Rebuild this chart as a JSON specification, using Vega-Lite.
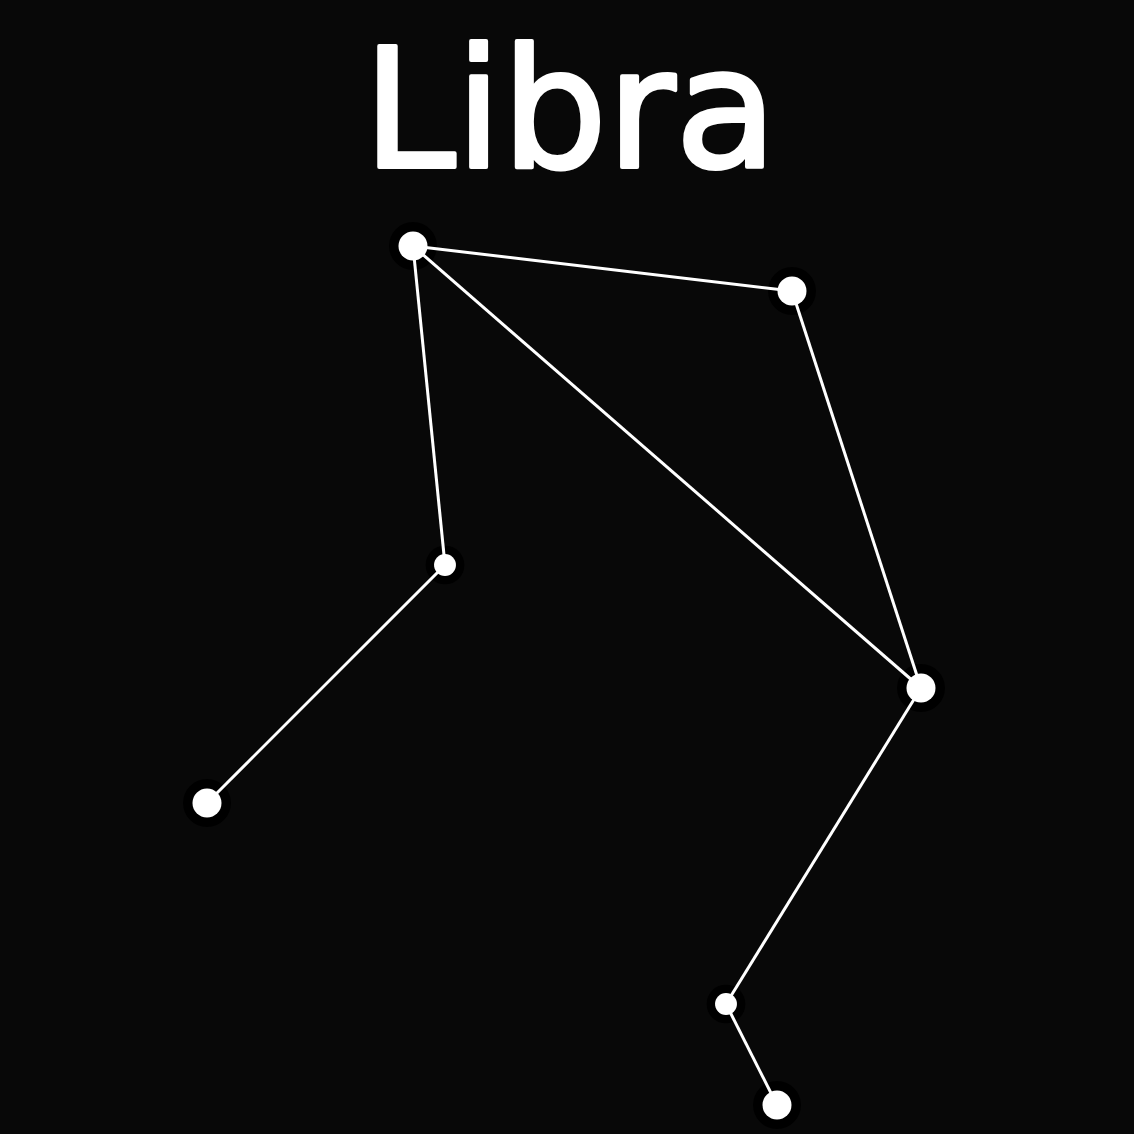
{
  "$schema": "https://vega.github.io/schema/vega-lite/v6.json",
  "description": "Libra constellation",
  "width": 1134,
  "height": 1134,
  "autosize": {"type": "fit", "contains": "padding"},
  "padding": 0,
  "background": "#080808",
  "config": {"view": {"stroke": null}},
  "datasets": {
    "stars": [
      {"id": "A", "x": 413, "y": 246, "brightness": "bright"},
      {"id": "B", "x": 792, "y": 291, "brightness": "bright"},
      {"id": "C", "x": 445, "y": 565, "brightness": "faint"},
      {"id": "D", "x": 207, "y": 803, "brightness": "bright"},
      {"id": "E", "x": 921, "y": 688, "brightness": "bright"},
      {"id": "F", "x": 726, "y": 1004, "brightness": "faint"},
      {"id": "G", "x": 777, "y": 1105, "brightness": "bright"}
    ],
    "edges": [
      {"source": "A", "target": "B"},
      {"source": "A", "target": "C"},
      {"source": "C", "target": "D"},
      {"source": "A", "target": "E"},
      {"source": "B", "target": "E"},
      {"source": "E", "target": "F"},
      {"source": "F", "target": "G"}
    ]
  },
  "resolve": {"scale": {"size": "independent"}},
  "layer": [
    {
      "data": {"name": "stars"},
      "mark": {"type": "circle", "color": "#000000", "opacity": 1},
      "encoding": {
        "x": {"field": "x", "type": "quantitative", "scale": {"domain": [0, 1134], "nice": false, "zero": false}, "axis": null},
        "y": {"field": "y", "type": "quantitative", "scale": {"domain": [0, 1134], "nice": false, "zero": false, "reverse": true}, "axis": null},
        "size": {"field": "brightness", "type": "nominal", "scale": {"domain": ["bright", "faint"], "range": [2300, 1500]}, "legend": null}
      }
    },
    {
      "data": {"name": "edges"},
      "transform": [
        {"lookup": "source", "from": {"data": {"name": "stars"}, "key": "id", "fields": ["x", "y"]}, "as": ["sx", "sy"]},
        {"lookup": "target", "from": {"data": {"name": "stars"}, "key": "id", "fields": ["x", "y"]}, "as": ["tx", "ty"]}
      ],
      "mark": {"type": "rule", "color": "#ffffff", "strokeWidth": 3},
      "encoding": {
        "x": {"field": "sx", "type": "quantitative"},
        "y": {"field": "sy", "type": "quantitative"},
        "x2": {"field": "tx"},
        "y2": {"field": "ty"}
      }
    },
    {
      "data": {"name": "stars"},
      "mark": {"type": "circle", "color": "#ffffff", "opacity": 1},
      "encoding": {
        "x": {"field": "x", "type": "quantitative"},
        "y": {"field": "y", "type": "quantitative"},
        "size": {"field": "brightness", "type": "nominal", "scale": {"domain": ["bright", "faint"], "range": [841, 480]}, "legend": null}
      }
    },
    {
      "data": {"values": [{"name": "Libra"}]},
      "mark": {"type": "text", "color": "#ffffff", "stroke": "#ffffff", "strokeWidth": 4, "strokeJoin": "round", "font": "DejaVu Sans", "fontSize": 166, "align": "center", "baseline": "alphabetic"},
      "encoding": {
        "x": {"datum": 570, "type": "quantitative"},
        "y": {"datum": 167, "type": "quantitative"},
        "text": {"field": "name"}
      }
    }
  ]
}
